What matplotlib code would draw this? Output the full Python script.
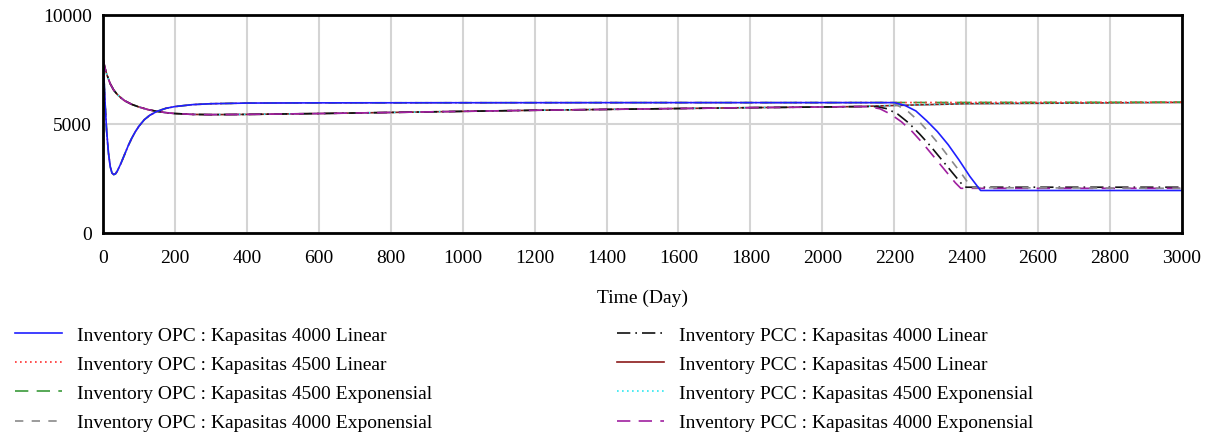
import numpy as np
import matplotlib
matplotlib.use("Agg")
import matplotlib.pyplot as plt
from matplotlib.lines import Line2D

# --- data ---
# OPC: sharp dip at the start, then flat near 5980
opc_early_day = [0, 3, 6, 10, 15, 20, 25, 30, 35, 40, 50, 60, 70, 80, 90, 100,
                 115, 130, 150, 175, 200, 250, 300, 400, 600, 1000, 1500, 2000]
opc_early_val = [8000, 7000, 5900, 4700, 3700, 3050, 2750, 2680, 2720, 2850, 3200,
                 3600, 4000, 4350, 4650, 4900, 5200, 5400, 5580, 5720, 5800, 5890,
                 5930, 5960, 5970, 5975, 5980, 5980]

# PCC: smooth decay from 8000, then slow rise
pcc_early_day = [0, 5, 10, 20, 30, 40, 50, 60, 80, 100, 125, 150, 175, 200, 250,
                 300, 400, 600, 800, 1000, 1200, 1400, 1600, 1800, 2000, 2100]
pcc_early_val = [8000, 7600, 7300, 6850, 6550, 6350, 6200, 6070, 5900, 5780, 5660,
                 5580, 5520, 5480, 5440, 5430, 5440, 5480, 5530, 5580, 5630, 5670,
                 5710, 5750, 5780, 5800]

# tails after day 2000 / 2100
opc_4000_lin_day = [2200, 2230, 2260, 2290, 2320, 2350, 2380, 2410, 2440, 3000]
opc_4000_lin_val = [5980, 5850, 5600, 5150, 4650, 4050, 3350, 2600, 1950, 1950]

opc_4500_lin_day = [2500, 3000]
opc_4500_lin_val = [5990, 6000]

opc_4500_exp_day = [2500, 3000]
opc_4500_exp_val = [5990, 6000]

opc_4000_exp_day = [2180, 2210, 2240, 2270, 2300, 2330, 2360, 2390, 2415, 3000]
opc_4000_exp_val = [5980, 5850, 5550, 5100, 4550, 3950, 3300, 2650, 2080, 2050]

pcc_4000_lin_day = [2150, 2180, 2210, 2240, 2270, 2300, 2330, 2360, 2390, 2400, 3000]
pcc_4000_lin_val = [5800, 5700, 5450, 5050, 4550, 4000, 3400, 2800, 2200, 2100, 2100]

pcc_4500_lin_day = [2200, 2400, 3000]
pcc_4500_lin_val = [5850, 5930, 5990]

pcc_4500_exp_day = [2200, 2400, 3000]
pcc_4500_exp_val = [5850, 5930, 5990]

pcc_4000_exp_day = [2130, 2160, 2190, 2220, 2250, 2280, 2310, 2340, 2370, 2385, 3000]
pcc_4000_exp_val = [5790, 5700, 5450, 5100, 4650, 4100, 3500, 2900, 2300, 2050, 2050]

labels = [
    "Inventory OPC : Kapasitas 4000 Linear",
    "Inventory OPC : Kapasitas 4500 Linear",
    "Inventory OPC : Kapasitas 4500 Exponensial",
    "Inventory OPC : Kapasitas 4000 Exponensial",
    "Inventory PCC : Kapasitas 4000 Linear",
    "Inventory PCC : Kapasitas 4500 Linear",
    "Inventory PCC : Kapasitas 4500 Exponensial",
    "Inventory PCC : Kapasitas 4000 Exponensial",
]

plt.rcParams['font.family'] = ['Liberation Serif', 'DejaVu Serif']

fig = plt.figure(figsize=(12.11, 4.39), dpi=100)
ax = fig.add_axes([103 / 1211, 1 - 234 / 439, 1079 / 1211, 218 / 439])

series = [
    (opc_early_day, opc_early_val, opc_4000_lin_day, opc_4000_lin_val, dict(color='#1f1fff', ls='-')),
    (opc_early_day, opc_early_val, opc_4500_lin_day, opc_4500_lin_val, dict(color='#ff3030', ls=(0, (1, 2)))),
    (opc_early_day, opc_early_val, opc_4500_exp_day, opc_4500_exp_val, dict(color='#3a9a3a', ls=(0, (8, 5)))),
    (opc_early_day, opc_early_val, opc_4000_exp_day, opc_4000_exp_val, dict(color='#8a8a8a', ls=(0, (5, 5)))),
    (pcc_early_day, pcc_early_val, pcc_4000_lin_day, pcc_4000_lin_val, dict(color='#111111', ls=(0, (8, 3, 1, 3)))),
    (pcc_early_day, pcc_early_val, pcc_4500_lin_day, pcc_4500_lin_val, dict(color='#8b1a1a', ls='-')),
    (pcc_early_day, pcc_early_val, pcc_4500_exp_day, pcc_4500_exp_val, dict(color='#30e8f0', ls=(0, (1, 2)))),
    (pcc_early_day, pcc_early_val, pcc_4000_exp_day, pcc_4000_exp_val, dict(color='#a020a0', ls=(0, (8, 5)))),
]

draw_order = [5, 6, 4, 7, 3, 2, 1, 0]
handles = [None] * 8
for i in draw_order:
    d0, v0, d1, v1, st = series[i]
    x = list(d0) + list(d1)
    y = list(v0) + list(v1)
    ax.plot(x, y, lw=1.2, **st)
    handles[i] = Line2D([], [], lw=1.2, **st)

ax.set_xlim(0, 3000)
ax.set_ylim(0, 10000)
ax.set_xticks(range(0, 3001, 200))
ax.set_yticks([0, 5000, 10000])
ax.grid(True, color='#d4d4d4', lw=1.5)
ax.set_axisbelow(True)
ax.tick_params(length=0, labelsize=14, pad=8)
ax.tick_params(axis='x', pad=11.5)
for s in ax.spines.values():
    s.set_linewidth(2)
ax.set_xlabel("Time (Day)", fontsize=14, labelpad=16)

leg_kw = dict(frameon=False, fontsize=14, handlelength=2.4, handletextpad=0.8,
              labelspacing=0.6, borderpad=0, borderaxespad=0, loc='upper left')
fig.legend(handles[:4], labels[:4], bbox_to_anchor=(15 / 1211, 1 - 327 / 439), **leg_kw)
fig.legend(handles[4:], labels[4:], bbox_to_anchor=(617 / 1211, 1 - 327 / 439), **leg_kw)

fig.savefig("out.png", dpi=100)
